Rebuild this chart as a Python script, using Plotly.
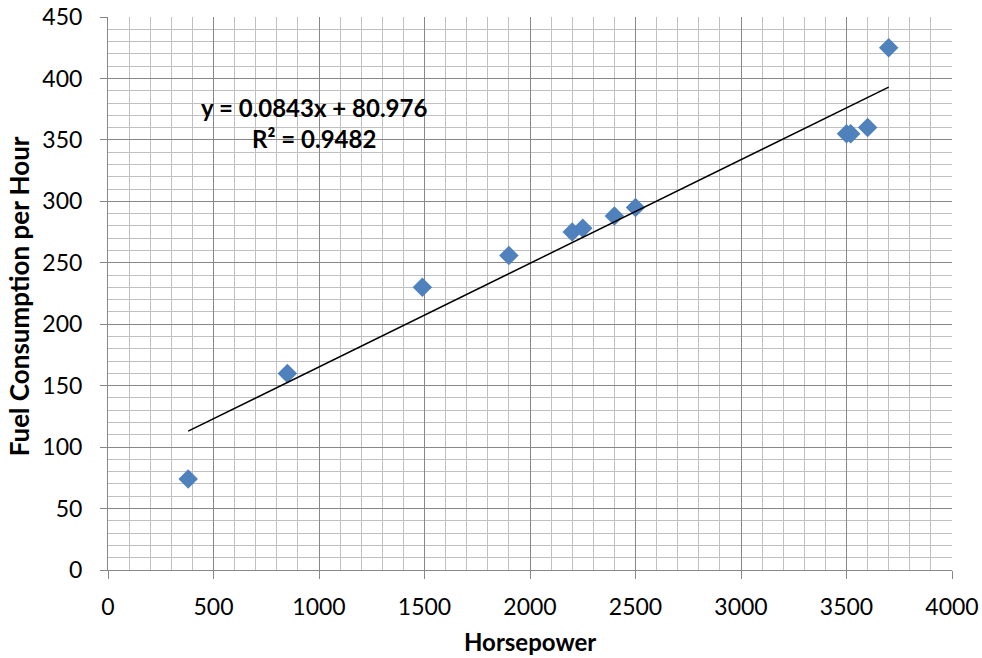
import plotly.graph_objects as go

horsepower = [380, 850, 1490, 1900, 2200, 2250, 2400, 2500, 3500, 3520, 3600, 3700]
fuel_per_hour = [74, 160, 230, 256, 275, 278, 288, 295, 355, 355, 360, 425]

trend_slope = 0.0843
trend_intercept = 80.976
eq_text = "y = 0.0843x + 80.976"
r2_text = "R² = 0.9482"

x_title = "Horsepower"
y_title = "Fuel Consumption per Hour"

trend_x = [min(horsepower), max(horsepower)]
trend_y = [trend_slope * v + trend_intercept for v in trend_x]

FONT = "Lato"
MAJOR = "#878787"
MINOR = "#c0c0c0"

fig = go.Figure()
fig.add_trace(go.Scatter(
    x=horsepower, y=fuel_per_hour, mode="markers",
    marker=dict(symbol="diamond", size=15, color="#4F81BD", line=dict(width=0)),
    showlegend=False, hoverinfo="x+y"))
fig.add_trace(go.Scatter(
    x=trend_x, y=trend_y, mode="lines",
    line=dict(color="black", width=1.5),
    showlegend=False, hoverinfo="skip"))

fig.add_annotation(x=976, y=376, xref="x", yref="y", text=eq_text, showarrow=False,
                   font=dict(family=FONT, size=24, color="black", weight="bold"),
                   xanchor="center", yanchor="middle")
fig.add_annotation(x=976, y=351, xref="x", yref="y", text=r2_text, showarrow=False,
                   font=dict(family=FONT, size=24, color="black", weight="bold"),
                   xanchor="center", yanchor="middle")

# axis titles
fig.add_annotation(x=0.5, y=0, xref="paper", yref="paper", yshift=-71,
                   text=x_title, showarrow=False,
                   font=dict(family=FONT, size=24, color="black", weight="bold"),
                   xanchor="center", yanchor="middle")
fig.add_annotation(x=0, y=0.495, xref="paper", yref="paper", xshift=-89,
                   text=y_title, showarrow=False, textangle=-90,
                   font=dict(family=FONT, size=26, color="black", weight="bold"),
                   xanchor="center", yanchor="middle")

fig.update_layout(
    width=982, height=658,
    margin=dict(l=108, r=30, t=17, b=88),
    plot_bgcolor="white", paper_bgcolor="white",
    font=dict(family=FONT, color="black"),
    xaxis=dict(
        range=[0, 4000], dtick=500, tick0=0, automargin=False,
        showgrid=True, gridcolor=MAJOR, gridwidth=1,
        minor=dict(dtick=100, showgrid=True, gridcolor=MINOR, gridwidth=1, ticks=""),
        showline=True, linecolor=MAJOR, linewidth=1,
        ticks="outside", ticklen=8, tickcolor=MAJOR,
        tickfont=dict(family=FONT, size=23, color="black"),
        ticklabelstandoff=8,
        zeroline=False, mirror=False,
    ),
    yaxis=dict(
        range=[0, 450], dtick=50, tick0=0, automargin=False,
        showgrid=True, gridcolor=MAJOR, gridwidth=1,
        minor=dict(dtick=10, showgrid=True, gridcolor=MINOR, gridwidth=1, ticks=""),
        showline=True, linecolor=MAJOR, linewidth=1,
        ticks="outside", ticklen=7, tickcolor=MAJOR,
        tickfont=dict(family=FONT, size=23, color="black"),
        ticklabelstandoff=13,
        zeroline=False,
    ),
)

fig.write_html("out.html")
